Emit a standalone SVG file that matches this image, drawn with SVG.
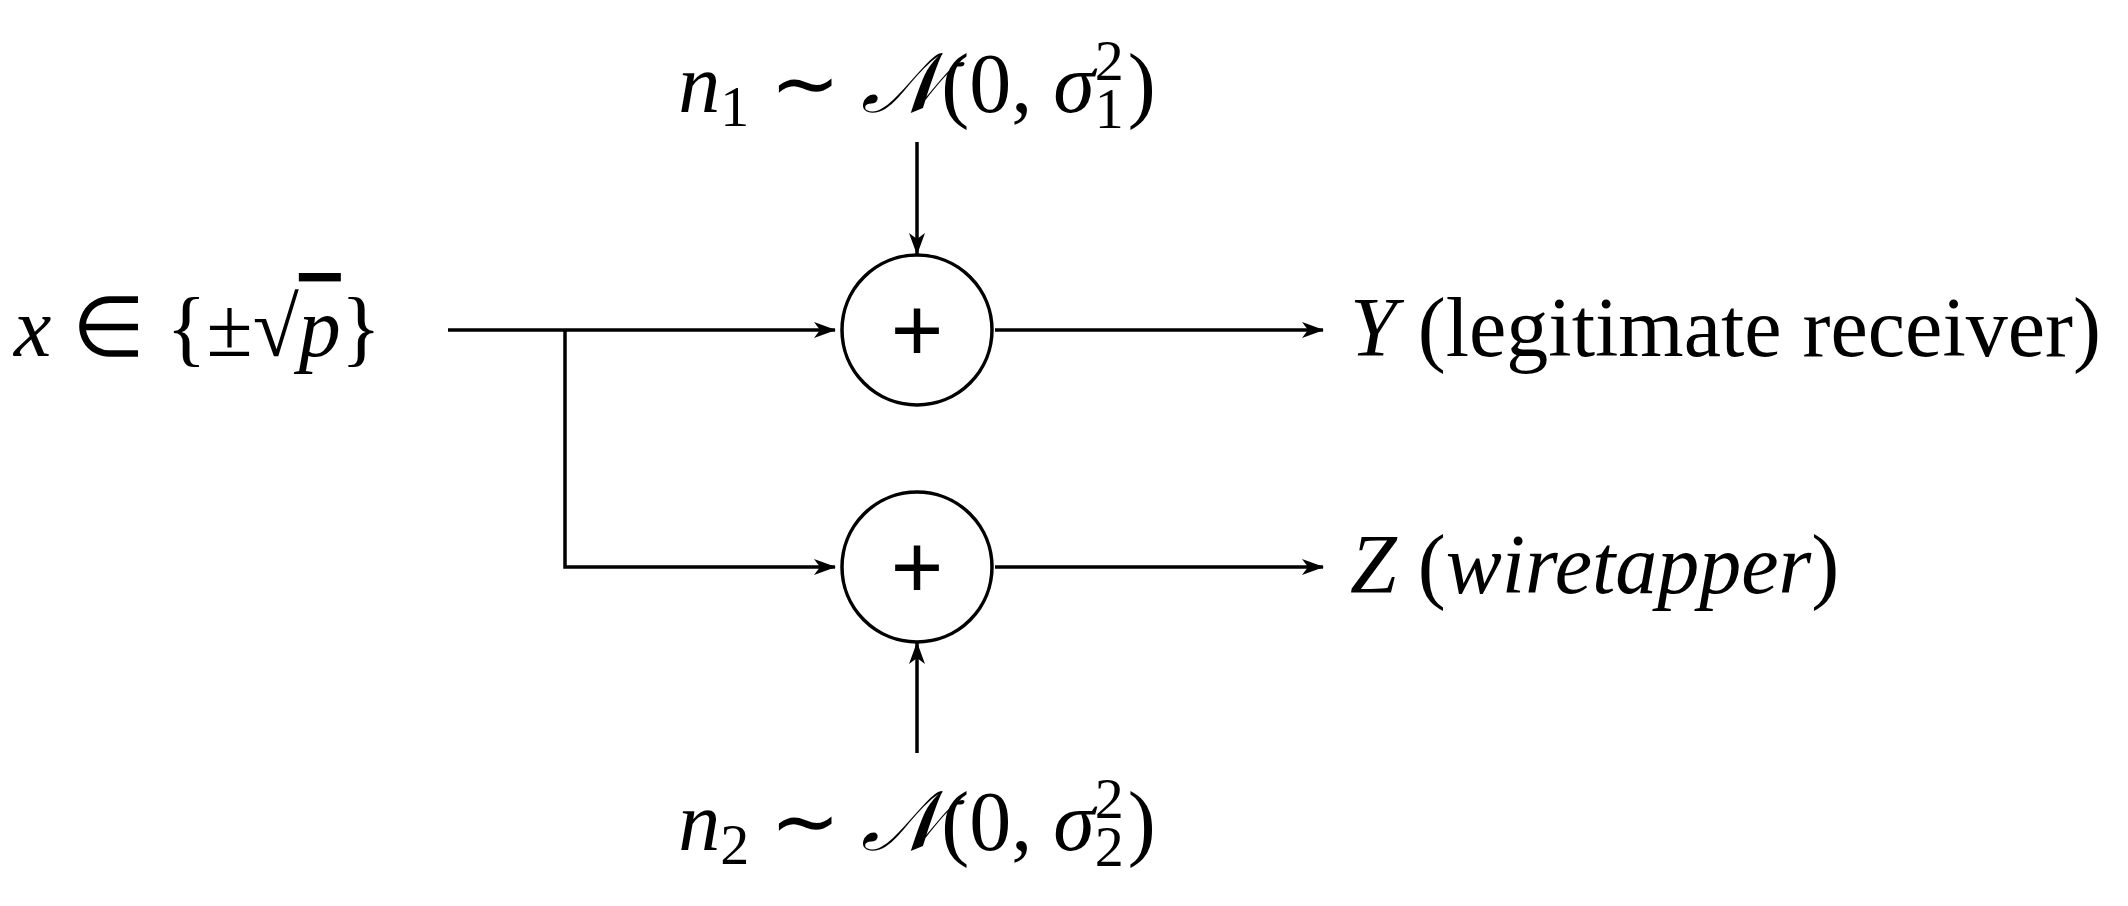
<svg xmlns="http://www.w3.org/2000/svg" width="2128" height="906" viewBox="0 0 2128 906">
<style>
.l{stroke:#000;stroke-width:3.5;fill:none}
.t{font-family:"Liberation Serif",serif;font-size:84px;fill:#000}
.i{font-style:italic}
.s{font-size:58px}
.p{font-family:"Liberation Sans",sans-serif;font-size:90px}
</style>
<defs><marker id="a" markerWidth="22" markerHeight="16" refX="21" refY="8" orient="auto" markerUnits="userSpaceOnUse"><path d="M0,0 L22,8 L0,16 L6,8 Z" fill="#000"/></marker></defs>
<rect width="2128" height="906" fill="#fff"/>
<g id="connectors">
<path class="l" d="M448,330 H835" marker-end="url(#a)"/>
<path class="l" d="M565,330 V567 H835" marker-end="url(#a)"/>
<path class="l" d="M917,142 V254" marker-end="url(#a)"/>
<path class="l" d="M917,753 V643" marker-end="url(#a)"/>
<path class="l" d="M995,330 H1323" marker-end="url(#a)"/>
<path class="l" d="M995,567 H1323" marker-end="url(#a)"/>
</g>
<g id="add1"><circle class="l" cx="917" cy="330" r="75"/><text class="p" x="917" y="361" text-anchor="middle">+</text></g>
<g id="add2"><circle class="l" cx="917" cy="567" r="75"/><text class="p" x="917" y="598" text-anchor="middle">+</text></g>
<g id="n1"><text class="t" x="917" y="112" text-anchor="middle"><tspan class="i">n</tspan><tspan class="s" dy="14">1</tspan><tspan dy="-14"> ∼ </tspan><tspan class="i">𝒩</tspan>(0, <tspan class="i">σ</tspan><tspan class="s" dy="-32">2</tspan><tspan class="s" dx="-29" dy="48">1</tspan><tspan dy="-16" dx="4">)</tspan></text></g>
<g id="n2"><text class="t" x="917" y="850" text-anchor="middle"><tspan class="i">n</tspan><tspan class="s" dy="14">2</tspan><tspan dy="-14"> ∼ </tspan><tspan class="i">𝒩</tspan>(0, <tspan class="i">σ</tspan><tspan class="s" dy="-32">2</tspan><tspan class="s" dx="-29" dy="48">2</tspan><tspan dy="-16" dx="4">)</tspan></text></g>
<g id="x"><text class="t" x="14" y="356"><tspan class="i">x</tspan> ∈ {±√<tspan class="i" text-decoration="overline">p</tspan>}</text></g>
<g id="Y"><text class="t" x="1350" y="356"><tspan class="i">Y</tspan>  (legitimate receiver)</text></g>
<g id="Z"><text class="t" x="1350" y="593"><tspan class="i">Z</tspan>  (<tspan class="i">wiretapper</tspan>)</text></g>
</svg>
